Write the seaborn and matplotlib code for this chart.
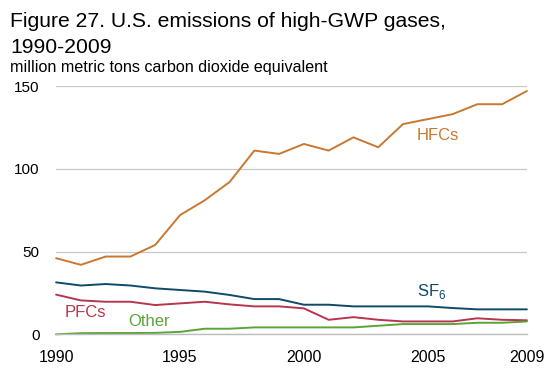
import pandas as pd
import matplotlib.pyplot as plt
import seaborn as sns

years = list(range(1990, 2010))
hfcs = [46, 42, 47, 47, 54, 72, 81, 92, 111, 109, 115, 111, 119, 113, 127, 130, 133, 139, 139, 147]
sf6 = [31.4, 29.5, 30.4, 29.5, 27.8, 26.8, 25.8, 23.8, 21.3, 21.3, 17.9, 17.9, 16.9, 16.9, 16.9, 16.9, 15.9, 15.1, 15.1, 15.1]
pfcs = [24, 20.5, 19.7, 19.7, 17.7, 18.7, 19.7, 18.1, 16.9, 16.9, 15.7, 8.8, 10.4, 8.8, 7.8, 7.8, 7.8, 9.7, 8.8, 8.5]
other = [0, 0.7, 0.8, 0.8, 0.9, 1.5, 3.4, 3.4, 4.2, 4.2, 4.2, 4.2, 4.2, 5.2, 6.2, 6.2, 6.2, 7.0, 7.0, 7.8]
xtick_labels = ['1990', '', '', '', '', '1995', '', '', '', '', '2000', '', '', '', '', '2005', '', '', '', '2009']

df = pd.DataFrame({'year': years * 4,
                   'value': hfcs + sf6 + pfcs + other,
                   'gas': ['HFCs'] * 20 + ['SF6'] * 20 + ['PFCs'] * 20 + ['Other'] * 20})

colors = {'HFCs': '#C8782F', 'SF6': '#0F4A6B', 'PFCs': '#B5364D', 'Other': '#5BA33B'}

sns.set_style('white')
plt.rcParams['font.family'] = ['Liberation Sans', 'DejaVu Sans']
plt.rcParams['mathtext.fontset'] = 'custom'
plt.rcParams['mathtext.rm'] = 'Liberation Sans'
plt.rcParams['text.color'] = 'black'

fig = plt.figure(figsize=(5.5, 3.74), dpi=100)
ax = fig.add_axes([0.102, 0.106, 0.856, 0.664])

sns.lineplot(data=df, x='year', y='value', hue='gas', palette=colors,
             linewidth=1.4, legend=False, ax=ax, clip_on=False)

ax.set_xlim(1990, 2009)
ax.set_ylim(0, 150)
ax.set_yticks([0, 50, 100, 150])
ax.set_xticks(years)
ax.set_xticklabels(xtick_labels)
ax.yaxis.grid(True, color='#C8C8C8', linewidth=0.9)
ax.set_axisbelow(True)
for s in ['left', 'right', 'top']:
    ax.spines[s].set_visible(False)
ax.spines['bottom'].set_color('#BDBDBD')
ax.spines['bottom'].set_linewidth(1.0)
ax.tick_params(axis='x', direction='out', length=6, width=0.8, color='#BDBDBD',
               labelsize=11.5, pad=5, labelcolor='black')
ax.tick_params(axis='y', length=0, labelsize=11, pad=12, labelcolor='black')
ax.set_xlabel('')
ax.set_ylabel('')

ax.text(2004.55, 120.4, 'HFCs', color=colors['HFCs'], fontsize=12, va='center')
ax.text(2004.55, 25.7, r'SF$_\mathregular{6}$', color=colors['SF6'], fontsize=12, va='center')
ax.text(1990.36, 12.9, 'PFCs', color=colors['PFCs'], fontsize=12, va='center')
ax.text(1992.9, 7.6, 'Other', color=colors['Other'], fontsize=12, va='center')

fig.text(0.019, 0.928, 'Figure 27. U.S. emissions of high-GWP gases,', fontsize=15.2, va='baseline')
fig.text(0.019, 0.857, '1990-2009', fontsize=15.2, va='baseline')
fig.text(0.019, 0.807, 'million metric tons carbon dioxide equivalent', fontsize=11.6, va='baseline')

plt.savefig('out.png', dpi=100)
plt.close()
